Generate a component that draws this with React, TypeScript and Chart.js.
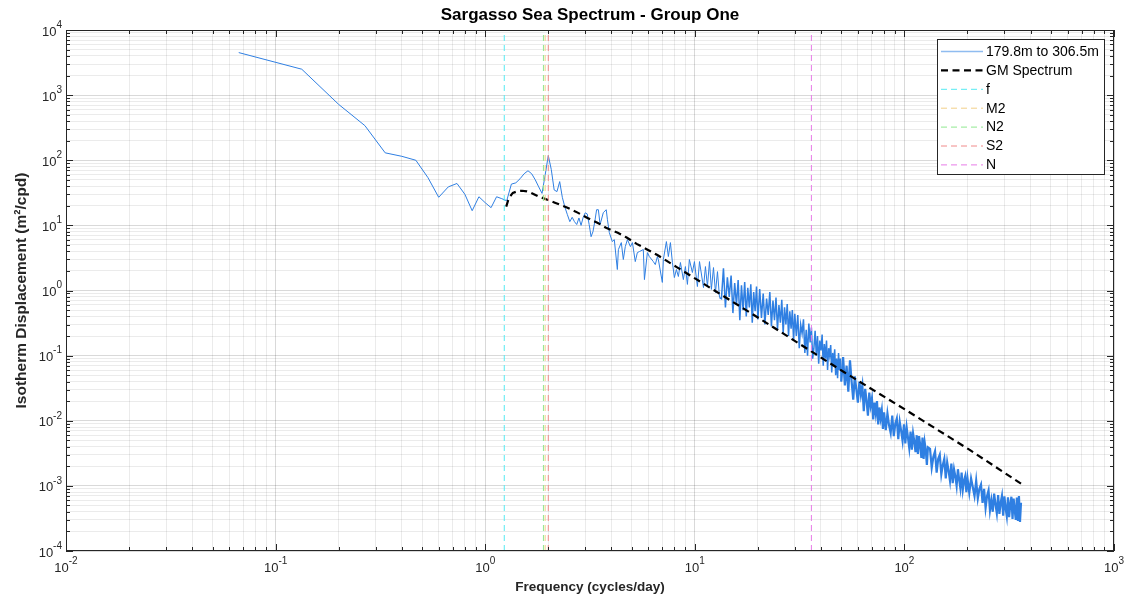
import { useEffect, useRef } from 'react';
import { Chart, registerables } from 'chart.js';

Chart.register(...registerables);

const FONT = '"Liberation Sans", Arial, Helvetica, sans-serif';

// ---------- data ----------
// low-frequency part of the measured spectrum (cpd, m^2/cpd)
const lowFreqs = [0.0667, 0.1333, 0.2, 0.2667, 0.3333, 0.4, 0.4667, 0.5333, 0.6, 0.6667, 0.7333, 0.8, 0.8667, 0.9333, 1.0, 1.0667, 1.1333, 1.2, 1.2667, 1.3333, 1.4, 1.4667, 1.5333, 1.6, 1.6667, 1.7333, 1.8, 1.8667, 1.9333, 2.0, 2.0667, 2.1333, 2.2, 2.2667, 2.3333, 2.4, 2.4667, 2.5333, 2.6, 2.6667, 2.7333, 2.8, 2.8667, 2.9333, 3.0, 3.0667, 3.1333, 3.2, 3.2667, 3.3333, 3.4, 3.4667, 3.5333];
const lowPsd = [4500, 2500, 720, 340, 130, 115, 100, 54, 27, 39, 44, 30, 16.8, 27.5, 22.3, 18.7, 27.5, 25.7, 23.9, 43, 45, 52, 62, 69, 62, 50, 39, 31, 60, 118, 72, 35, 33, 47, 27, 19, 14.6, 11.4, 13.3, 11.4, 10.3, 13, 10, 13.3, 15.6, 15, 10.3, 6.7, 8, 11.4, 17.4, 17.4, 10.3];

const midFreqs = [3.66, 3.78, 3.83, 3.91, 4.04, 4.13, 4.27, 4.32, 4.46, 4.56, 4.66, 4.77, 4.93, 5.04, 5.2, 5.32, 5.44, 5.68, 5.75, 5.94, 6.07, 6.34, 6.48, 6.63, 6.7, 7.0, 7.08, 7.32, 7.48, 7.65, 7.82, 7.99, 8.17, 8.35, 8.54, 8.82, 9.02, 9.22, 9.42, 9.74, 9.96, 10.29, 10.53, 11.0, 11.24, 11.49, 11.75, 12.0, 12.28, 12.55, 12.83, 13.12];
const midPsd = [15.7, 17.4, 12.2, 7.74, 5.64, 6.05, 2.1, 4.25, 5.44, 2.99, 4.72, 6.05, 4.72, 5.44, 2.78, 3.82, 3.96, 4.25, 1.47, 3.82, 3.32, 2.78, 2.5, 3.32, 2.99, 1.33, 2.99, 5.64, 3.32, 5.44, 2.69, 1.58, 2.1, 1.64, 2.69, 1.47, 2.33, 1.24, 2.99, 1.89, 2.78, 1.15, 2.78, 1.11, 2.33, 1.15, 2.78, 1.04, 2.25, 0.93, 1.95, 0.78];

const bandAFreqs = [13.4, 13.7, 14.0, 14.3, 14.6, 14.9, 15.2, 15.5, 15.8, 16.1, 16.4, 16.7, 17.0, 17.3, 17.6, 17.9, 18.2, 18.5, 18.8, 19.1, 19.4, 19.7, 20.0];
const bandAPsd = [0.75, 2.2, 0.55, 1.6, 0.8, 1.7, 0.45, 1.3, 0.6, 1.45, 0.35, 1.2, 0.5, 1.35, 0.4, 1.1, 0.55, 1.25, 0.32, 0.95, 0.48, 1.15, 0.36];

const bandBFreqs = [20.4, 20.8, 21.2, 21.6, 22.0, 22.4, 22.8, 23.2, 23.6, 24.0, 24.4, 24.8, 25.2, 25.6, 26.0, 26.4, 26.8, 27.2, 27.6, 28.0, 28.4, 28.8, 29.2, 29.6, 30.0];
const bandBPsd = [1.05, 0.38, 0.9, 0.3, 0.75, 0.42, 0.95, 0.28, 0.7, 0.35, 0.78, 0.25, 0.6, 0.32, 0.72, 0.22, 0.55, 0.3, 0.62, 0.2, 0.48, 0.26, 0.5, 0.17, 0.44];

const bandCFreqs = [30.5, 31, 31.5, 32, 32.5, 33, 33.5, 34, 34.5, 35, 35.5, 36, 36.5, 37, 37.5, 38, 38.5, 39, 39.5, 40, 40.5, 41, 41.5, 42, 42.5, 43, 43.5, 44, 44.5, 45, 45.5, 46, 46.5, 47, 47.5, 48, 48.5, 49, 49.5, 50];
const bandCPsd = [0.2, 0.42, 0.13, 0.3, 0.22, 0.36, 0.11, 0.25, 0.1, 0.31, 0.16, 0.27, 0.09, 0.13, 0.24, 0.1, 0.2, 0.075, 0.17, 0.12, 0.21, 0.07, 0.15, 0.09, 0.17, 0.06, 0.13, 0.1, 0.145, 0.055, 0.11, 0.07, 0.125, 0.05, 0.09, 0.045, 0.11, 0.06, 0.09, 0.04];

const bandDFreqs = [51, 52, 53, 54, 55, 56, 57, 58, 59, 60, 61, 62, 63, 64, 65, 66, 67, 68, 69, 70, 71, 72, 73, 74, 75, 76, 77, 78, 79, 80];
const bandDPsd = [0.095, 0.035, 0.07, 0.028, 0.085, 0.04, 0.021, 0.048, 0.03, 0.019, 0.04, 0.025, 0.035, 0.014, 0.031, 0.02, 0.012, 0.027, 0.017, 0.022, 0.0105, 0.019, 0.013, 0.02, 0.0088, 0.016, 0.011, 0.0145, 0.0075, 0.0135];

const bandEFreqs = [81.5, 83, 84.5, 86, 87.5, 89, 90.5, 92, 93.5, 95, 96.5, 98, 99.5, 101, 102.5, 104, 105.5, 107, 108.5, 110, 111.5, 113, 114.5, 116, 117.5, 119, 120.5, 122, 123.5, 125, 126.5, 128, 129.5];
const bandEPsd = [0.0072, 0.013, 0.0085, 0.0065, 0.012, 0.0058, 0.009, 0.0108, 0.0052, 0.0096, 0.007, 0.0049, 0.0088, 0.0045, 0.0079, 0.0055, 0.0038, 0.0068, 0.0036, 0.0064, 0.0048, 0.0033, 0.006, 0.0031, 0.0058, 0.0042, 0.0027, 0.0055, 0.0026, 0.0046, 0.0035, 0.0021, 0.0039];

const bandFFreqs = [132.5, 135, 137.5, 140, 142.5, 145, 147.5, 150, 152.5, 155, 157.5, 160, 162.5, 165, 167.5, 170, 172.5, 175, 177.5, 180, 182.5, 185, 187.5, 190, 192.5, 195, 197.5, 200];
const bandFPsd = [0.0037, 0.0019, 0.0028, 0.0034, 0.0016, 0.0026, 0.003, 0.0015, 0.0021, 0.0026, 0.0013, 0.0023, 0.0017, 0.0012, 0.0022, 0.0011, 0.0018, 0.0014, 0.001, 0.0018, 0.00125, 0.00092, 0.0016, 0.00088, 0.0012, 0.0014, 0.0008, 0.0013];

const bandGFreqs = [204, 208, 212, 216, 220, 224, 228, 232, 236, 240, 244, 248, 252, 256, 260, 264, 268, 272, 276, 280, 284, 288, 292, 296, 300, 304, 308, 312, 316, 320, 324, 328, 332, 336, 340, 344, 348, 352, 356, 360];
const bandGPsd = [0.00078, 0.0013, 0.00095, 0.0007, 0.0012, 0.00064, 0.0009, 0.00105, 0.00055, 0.0009, 0.00046, 0.0007, 0.00085, 0.00042, 0.0006, 0.0004, 0.00076, 0.00052, 0.00038, 0.00072, 0.00037, 0.00055, 0.0007, 0.00035, 0.00069, 0.00045, 0.00034, 0.00067, 0.00033, 0.00052, 0.00068, 0.00031, 0.00064, 0.00042, 0.0003, 0.00066, 0.00029, 0.0007, 0.00028, 0.00055];

// Garrett-Munk reference spectrum
const gmFreqs = [1.26, 1.285, 1.315, 1.355, 1.43, 1.5, 1.58, 1.65, 1.785, 1.98, 2.15, 2.47, 2.76, 3.06, 3.43, 3.77, 4.29, 4.73, 5.28, 5.98, 6.63, 8.2, 10.2, 20.4, 51, 102, 204, 360];
const gmPsd = [19.4, 24, 28, 31.5, 33.5, 34, 33.2, 31.8, 28, 24.8, 22.3, 18.7, 15.7, 13.1, 11.0, 9.2, 7.7, 6.5, 5.2, 4.2, 3.5, 2.29, 1.48, 0.37, 0.057, 0.0145, 0.0036, 0.00108];

// reference frequencies (cpd)
const fFreq = 1.233;
const m2Freq = 1.932;
const n2Freq = 1.896;
const s2Freq = 2.0;
const nFreq = 36.0;

const seriesLabels = ['179.8m to 306.5m', 'GM Spectrum', 'f', 'M2', 'N2', 'S2', 'N'];
const chartTitle = 'Sargasso Sea Spectrum - Group One';
const xAxisTitle = 'Frequency (cycles/day)';
const yAxisTitle = 'Isotherm Displacement (m\u00B2/cpd)';

const xTickExps = [-2, -1, 0, 1, 2, 3];
const yTickExps = [-4, -3, -2, -1, 0, 1, 2, 3, 4];

// ---------- helpers ----------
const toPoints = (fs: number[], vs: number[]) => fs.map((f, i) => ({ x: f, y: vs[i] }));

const spectrumPoints = [
  ...toPoints(lowFreqs, lowPsd),
  ...toPoints(midFreqs, midPsd),
  ...toPoints(bandAFreqs, bandAPsd),
  ...toPoints(bandBFreqs, bandBPsd),
  ...toPoints(bandCFreqs, bandCPsd),
  ...toPoints(bandDFreqs, bandDPsd),
  ...toPoints(bandEFreqs, bandEPsd),
  ...toPoints(bandFFreqs, bandFPsd),
  ...toPoints(bandGFreqs, bandGPsd),
];
const gmPoints = toPoints(gmFreqs, gmPsd);

const Y_MIN = Math.pow(10, yTickExps[0]);
const Y_MAX = Math.pow(10, yTickExps[yTickExps.length - 1]);
const X_MIN = Math.pow(10, xTickExps[0]);
const X_MAX = Math.pow(10, xTickExps[xTickExps.length - 1]);

const vline = (f: number) => [{ x: f, y: Y_MIN }, { x: f, y: Y_MAX }];

const logTicks = (exps: number[]) => {
  const t: { value: number; major: boolean }[] = [];
  for (let i = 0; i < exps.length - 1; i++) {
    const p = Math.pow(10, exps[i]);
    for (let m = 1; m <= 9; m++) t.push({ value: m * p, major: m === 1 });
  }
  t.push({ value: Math.pow(10, exps[exps.length - 1]), major: true });
  return t;
};

const MAJOR_GRID = 'rgba(0,0,0,0.15)';
const MINOR_GRID = 'rgba(0,0,0,0.08)';
const AXIS_COLOR = '#262626';
const SPECTRUM_BLUE = '#2f7fe2';

const decorPlugin = {
  id: 'decor',
  afterDraw(chart: any) {
    const { ctx, chartArea: a, scales } = chart;
    const xs = scales.x;
    const ys = scales.y;
    ctx.save();
    // axes box
    ctx.strokeStyle = AXIS_COLOR;
    ctx.lineWidth = 1;
    ctx.setLineDash([]);
    ctx.strokeRect(a.left + 0.5, a.top + 0.5, a.right - a.left - 1, a.bottom - a.top - 1);
    // inward tick marks
    ctx.beginPath();
    for (const t of logTicks(xTickExps)) {
      const px = Math.round(xs.getPixelForValue(t.value)) + 0.5;
      const len = t.major ? 7 : 4;
      ctx.moveTo(px, a.bottom);
      ctx.lineTo(px, a.bottom - len);
      ctx.moveTo(px, a.top);
      ctx.lineTo(px, a.top + len);
    }
    for (const t of logTicks(yTickExps)) {
      const py = Math.round(ys.getPixelForValue(t.value)) + 0.5;
      const len = t.major ? 7 : 4;
      ctx.moveTo(a.left, py);
      ctx.lineTo(a.left + len, py);
      ctx.moveTo(a.right, py);
      ctx.lineTo(a.right - len, py);
    }
    ctx.stroke();

    // tick labels 10^n
    const baseFont = `13px ${FONT}`;
    const expFont = `10px ${FONT}`;
    ctx.fillStyle = AXIS_COLOR;
    ctx.textBaseline = 'middle';
    ctx.textAlign = 'left';
    for (const e of xTickExps) {
      const px = xs.getPixelForValue(Math.pow(10, e));
      const es = String(e);
      ctx.font = baseFont;
      const wb = ctx.measureText('10').width;
      ctx.font = expFont;
      const we = ctx.measureText(es).width;
      const start = px - (wb + we) / 2;
      ctx.font = baseFont;
      ctx.fillText('10', start, a.bottom + 17);
      ctx.font = expFont;
      ctx.fillText(es, start + wb, a.bottom + 10);
    }
    for (const e of yTickExps) {
      const py = ys.getPixelForValue(Math.pow(10, e));
      const es = String(e);
      ctx.font = expFont;
      const we = ctx.measureText(es).width;
      ctx.font = baseFont;
      const wb = ctx.measureText('10').width;
      const right = a.left - 4;
      ctx.fillText('10', right - we - wb, py + 2);
      ctx.font = expFont;
      ctx.fillText(es, right - we, py - 5);
    }

    // legend (drawn from the datasets that carry a label)
    const lw = 168;
    const lh = 136;
    const lx = a.right - 9 - lw;
    const ly = a.top + 9;
    ctx.fillStyle = '#ffffff';
    ctx.fillRect(lx, ly, lw, lh);
    ctx.strokeStyle = AXIS_COLOR;
    ctx.lineWidth = 1;
    ctx.strokeRect(lx + 0.5, ly + 0.5, lw - 1, lh - 1);
    chart.data.datasets
      .filter((ds: any) => !!ds.label)
      .forEach((ds: any, i: number) => {
        const y = ly + 12.5 + i * 18.9;
        ctx.save();
        ctx.strokeStyle = ds.legendColor || ds.borderColor;
        ctx.lineWidth = ds.legendWidth || ds.borderWidth;
        ctx.setLineDash(ds.borderDash || []);
        ctx.beginPath();
        ctx.moveTo(lx + 4, y);
        ctx.lineTo(lx + 46, y);
        ctx.stroke();
        ctx.restore();
        ctx.fillStyle = '#000000';
        ctx.font = `14px ${FONT}`;
        ctx.textBaseline = 'middle';
        ctx.textAlign = 'left';
        ctx.fillText(ds.label, lx + 49, y + 0.5);
      });
    ctx.restore();
  },
};

export default function App() {
  const canvasRef = useRef<HTMLCanvasElement | null>(null);

  useEffect(() => {
    if (!canvasRef.current) return;
    const vDash = [6, 4];
    const chart = new Chart(canvasRef.current, {
      type: 'line',
      data: {
        datasets: [
          {
            label: seriesLabels[0],
            data: spectrumPoints,
            borderColor: SPECTRUM_BLUE,
            legendColor: '#8fbcf0',
            legendWidth: 1.6,
            borderWidth: 1,
            pointRadius: 0,
            tension: 0,
            order: 10,
            segment: {
              borderWidth: (c: any) => (c.p0.parsed.x >= 50 ? 2.2 : c.p0.parsed.x >= 13 ? 1.5 : 1),
            },
          },
          { label: seriesLabels[1], data: gmPoints, borderColor: '#000000', borderWidth: 2.2, borderDash: [7, 4.5], pointRadius: 0, tension: 0, order: 5 },
          { label: seriesLabels[2], data: vline(fFreq), borderColor: '#55eaf2', borderWidth: 1, borderDash: vDash, pointRadius: 0, order: 1 },
          { label: seriesLabels[3], data: vline(m2Freq), borderColor: '#f2cf88', borderWidth: 1, borderDash: vDash, pointRadius: 0, order: 4 },
          { label: seriesLabels[4], data: vline(n2Freq), borderColor: '#8fe88f', borderWidth: 1, borderDash: vDash, pointRadius: 0, order: 3 },
          { label: seriesLabels[5], data: vline(s2Freq), borderColor: '#f08a8a', borderWidth: 1, borderDash: vDash, pointRadius: 0, order: 2 },
          { label: seriesLabels[6], data: vline(nFreq), borderColor: '#e77ae7', borderWidth: 1, borderDash: vDash, pointRadius: 0, order: 1 },
        ],
      },
      options: {
        animation: false,
        responsive: false,
        events: [],
        layout: { padding: { left: 0, right: 15, top: 0, bottom: 0 } },
        plugins: {
          legend: { display: false },
          tooltip: { enabled: false },
          title: {
            display: true,
            fullSize: false,
            text: chartTitle,
            color: '#000000',
            font: { family: FONT, size: 17, weight: 'bold' },
            padding: { top: 5, bottom: 4.6 },
          },
        },
        scales: {
          x: {
            type: 'logarithmic',
            min: X_MIN,
            max: X_MAX,
            afterBuildTicks: (s: any) => { s.ticks = logTicks(xTickExps); },
            afterFit: (s: any) => { s.height = 48; },
            ticks: { display: false, autoSkip: false },
            grid: {
              drawTicks: false,
              color: (c: any) => (c.tick && c.tick.major ? MAJOR_GRID : MINOR_GRID),
            },
            border: { display: false },
            title: {
              display: true,
              text: xAxisTitle,
              color: AXIS_COLOR,
              font: { family: FONT, size: 13.5, weight: 'bold' },
              padding: { top: 0, bottom: 4 },
            },
          },
          y: {
            type: 'logarithmic',
            min: Y_MIN,
            max: Y_MAX,
            afterBuildTicks: (s: any) => { s.ticks = logTicks(yTickExps); },
            afterFit: (s: any) => { s.width = 66; },
            ticks: { display: false, autoSkip: false },
            grid: {
              drawTicks: false,
              color: (c: any) => (c.tick && c.tick.major ? MAJOR_GRID : MINOR_GRID),
            },
            border: { display: false },
            title: {
              display: true,
              text: yAxisTitle,
              color: AXIS_COLOR,
              font: { family: FONT, size: 15.5, weight: 'bold' },
              padding: { top: 12.7, bottom: 0 },
            },
          },
        },
      },
      plugins: [decorPlugin],
    } as any);
    return () => chart.destroy();
  }, []);

  return (
    <div style={{ position: 'fixed', left: 0, top: 0, width: 1129, height: 599, background: '#ffffff' }}>
      <canvas ref={canvasRef} width={1129} height={599} style={{ width: 1129, height: 599, display: 'block' }} />
    </div>
  );
}
